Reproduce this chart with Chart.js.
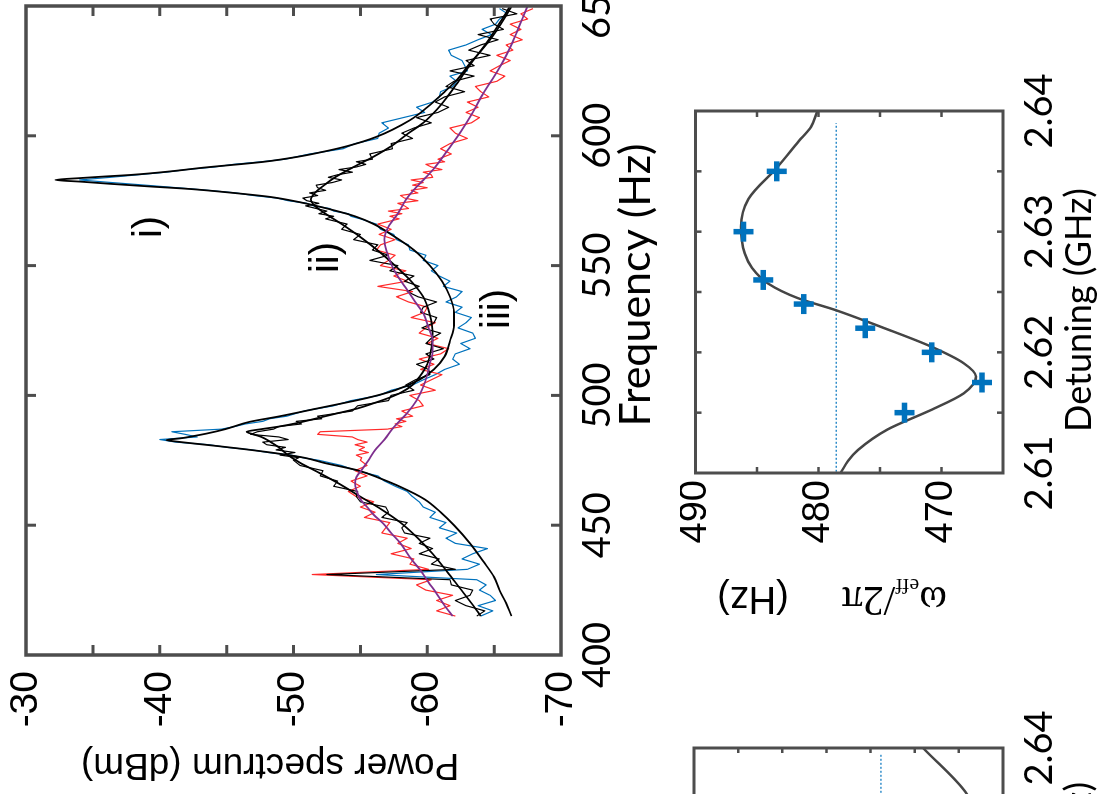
<!DOCTYPE html>
<html><head><meta charset="utf-8">
<script src="https://cdn.jsdelivr.net/npm/chart.js@4.4.1/dist/chart.umd.min.js"></script>
<style>
html,body{margin:0;padding:0;background:#fff;overflow:hidden;width:1106px;height:794px;}
#fig{position:absolute;left:0;top:0;width:794px;height:1106px;transform-origin:0 0;transform:translate(0px,794px) rotate(-90deg);}
canvas{position:absolute;}
</style></head><body>
<div id="fig">
<canvas id="main" width="794" height="690" style="left:0px;top:0px"></canvas>
<canvas id="inset" width="634" height="426" style="left:160px;top:680px"></canvas>
<canvas id="third" width="500" height="426" style="left:-400px;top:680px"></canvas>
</div>
<script>
// ---------- main panel data: power spectrum (dBm) vs frequency (Hz) ----------
const freqs = [415,417,419,421,423,425,427,429,431,433,435,437,439,441,443,445,447,449,451,453,455,457,459,461,463,465,467,469,471,473,475,
476,477,478,479,480,481,482,483,484,485,486,487,488,489,490,491,492,
494,496,498,500,502,504,506,508,510,512,514,516,518,520,522,524,526,528,530,532,534,536,538,540,542,544,546,548,550,552,554,556,558,560,562,564,566,568,
569,570,571,572,573,574,575,576,577,578,579,580,581,582,583,584,585,586,587,588,589,590,591,
593,595,597,599,601,603,605,607,609,611,613,615,617,619,621,623,625,627,629,631,633,635,637,639,641,643,645,647,649];

const blueI = [-64.0,-64.9,-63.8,-65.1,-64.7,-63.9,-64.4,-63.7,-56.2,-63.0,-63.9,-62.6,-63.4,-64.5,-62.1,-61.4,-62.2,-60.9,-61.4,-60.2,-60.6,-59.7,-59.4,-58.9,-58.5,-57.6,-56.8,-56.3,-54.7,-53.6,-51.9,
-50.7,-49.8,-48.1,-46.9,-45.0,-43.7,-41.2,-40.0,-42.8,-41.9,-40.9,-44.6,-45.6,-46.4,-47.7,-48.2,-49.5,
-50.8,-53.0,-54.3,-56.4,-57.3,-58.9,-59.7,-60.6,-61.3,-62.4,-61.9,-62.1,-63.2,-62.5,-63.6,-63.4,-62.3,-62.9,-63.3,-62.1,-62.6,-61.4,-62.2,-62.6,-61.2,-61.7,-60.9,-60.3,-60.8,-59.7,-59.9,-58.7,-58.6,-57.7,-57.5,-56.5,-56.2,-55.0,
-54.3,-54.1,-53.0,-52.7,-51.5,-51.0,-49.6,-48.8,-47.0,-45.7,-43.6,-41.3,-38.9,-36.4,-34.0,-36.3,-38.4,-40.5,-42.0,-44.1,-45.5,-47.6,-49.4,
-51.2,-53.7,-54.6,-56.3,-56.4,-57.1,-56.6,-58.2,-59.8,-59.2,-60.4,-60.9,-61.0,-61.9,-62.2,-61.7,-63.0,-62.8,-62.6,-61.8,-61.6,-62.9,-63.8,-64.8,-64.1,-65.1,-65.4,-66.0,-65.4];

const blackII = [-63.7,-64.3,-62.9,-62.1,-63.2,-63.4,-61.8,-61.7,-52.5,-62.1,-60.3,-60.9,-59.4,-60.4,-59.4,-60.2,-58.3,-58.1,-58.5,-56.6,-57.1,-56.9,-55.0,-54.7,-54.8,-53.0,-53.3,-52.0,-52.2,-50.5,-50.0,
-50.4,-49.0,-50.1,-48.7,-49.4,-48.0,-47.7,-49.6,-48.9,-46.8,-47.3,-48.5,-48.9,-50.6,-50.2,-52.1,-51.8,
-54.4,-54.8,-57.1,-57.3,-59.0,-58.4,-59.1,-60.2,-60.1,-59.2,-60.5,-59.9,-61.2,-59.9,-60.3,-61.0,-59.6,-60.5,-60.7,-59.5,-59.7,-60.7,-59.3,-58.5,-59.4,-58.3,-59.0,-57.2,-57.8,-55.7,-57.1,-55.9,-56.3,-54.5,-55.0,-53.6,-54.0,-52.4,
-53.0,-51.9,-52.5,-51.7,-50.9,-51.9,-51.0,-50.7,-51.8,-51.2,-52.4,-51.8,-51.7,-52.9,-53.6,-52.6,-53.3,-54.4,-53.4,-54.7,-55.4,-54.7,-55.9,
-55.7,-57.4,-57.3,-58.9,-58.1,-59.0,-60.3,-59.2,-60.8,-61.6,-60.6,-61.3,-62.8,-61.4,-62.0,-63.5,-61.7,-63.5,-62.9,-64.7,-63.1,-64.0,-65.3,-63.8,-65.7,-65.0,-64.7,-66.7,-65.6];

const redIII = [-62.1,-60.7,-61.7,-60.7,-61.9,-59.9,-59.2,-60.3,-51.4,-60.1,-58.7,-59.0,-57.3,-58.8,-57.8,-58.5,-56.6,-56.9,-57.2,-55.3,-56.1,-55.0,-56.0,-54.7,-54.1,-55.0,-54.3,-55.5,-54.6,-55.5,-55.0,
-55.1,-54.7,-55.6,-54.9,-55.3,-54.6,-55.5,-54.8,-54.4,-51.8,-52.0,-57.0,-58.1,-57.6,-58.4,-57.7,-58.9,
-58.1,-59.7,-59.4,-58.7,-60.6,-59.5,-60.3,-61.1,-59.5,-60.5,-59.4,-61.0,-61.6,-60.0,-60.8,-59.4,-59.9,-60.6,-58.8,-59.8,-60.0,-58.6,-57.7,-58.9,-56.3,-58.5,-57.5,-58.4,-56.5,-57.1,-57.6,-56.2,-56.5,-57.6,-56.4,-57.3,-56.3,-57.9,
-57.2,-58.1,-57.1,-58.6,-58.3,-57.8,-59.3,-58.3,-58.0,-59.3,-58.8,-60.0,-58.9,-59.7,-58.8,-60.4,-60.3,-59.7,-61.1,-60.3,-59.9,-61.3,-60.8,
-61.8,-61.0,-61.7,-63.0,-62.1,-61.7,-63.3,-63.9,-62.9,-63.8,-63.0,-64.6,-64.0,-63.6,-65.2,-65.8,-64.7,-65.4,-66.2,-65.2,-66.4,-65.9,-67.1,-66.2,-67.0,-66.2,-67.5,-67.0,-67.9];

const fit1Freq = [415,420,425,430,436,443,450,455,460,465,468,471,474,476,478,479.5,480.5,481.5,482.2,482.8,483.5,484.3,485.3,487,489.8,492,495,499,502,506,510,515,521,527,532,538,544,550,556,561,566,569,572,574.5,576.5,578,579.5,580.5,581.5,582.3,583,583.7,584.3,585,586.3,587.7,590,592,593.4,596,599.6,606,611,616.5,622,628,632,637,643,649,650];
const fit1Pow = [-66.3,-65.9,-65.4,-65.0,-64.2,-63.2,-62.0,-61.0,-59.8,-57.9,-56.5,-54.9,-52.3,-50.8,-48.3,-46.0,-44.3,-42.5,-41.3,-40.5,-41.6,-42.5,-43.5,-44.9,-46.7,-49.0,-51.8,-55.5,-57.6,-59.4,-60.5,-61.3,-61.7,-62.0,-62.0,-61.7,-61.1,-60.2,-59.0,-57.6,-56.0,-54.6,-52.5,-50.4,-48.2,-45.5,-42.3,-39.2,-36.3,-34.2,-32.2,-34.0,-35.8,-38.0,-40.8,-43.2,-47.8,-50.4,-51.8,-54.0,-56.2,-58.7,-60.0,-61.2,-62.3,-63.2,-63.9,-64.7,-65.5,-66.2,-66.3];

const fit2Freq = [415,420,426,432,439,445,451,456,461,466,470.5,474,477,480,482,484,485,486,487,488,489.5,491,493,495,497,499,501,504,507,512,518,524,531,538,544,549.5,555,561,566,570,573,575.5,578,581,584,588,592,596,601,605,610,615,620,628,637,645,650];
const fit2Pow = [-64.0,-63.3,-62.4,-61.5,-60.4,-59.3,-58.0,-56.6,-55.0,-53.4,-51.8,-50.5,-49.6,-48.9,-48.3,-47.6,-47.0,-46.5,-47.6,-48.9,-50.4,-51.6,-53.2,-54.8,-56.0,-57.1,-58.0,-58.9,-59.4,-60.0,-60.3,-60.4,-60.2,-59.7,-58.8,-57.7,-56.5,-55.0,-53.6,-52.4,-51.6,-51.3,-51.6,-52.3,-53.1,-54.5,-56.0,-57.3,-58.6,-59.7,-60.7,-61.5,-62.2,-63.3,-64.6,-65.6,-66.2];

const fit3Freq = [415,419,423.7,428,432.6,437,443,447,450.7,454,457,460,463.5,466,468.5,472,475,478.9,483,487.8,493.2,498,503.3,508,512.5,517,521.4,526,531.7,536,540.6,545,549.5,555,560,565,570,575.3,579.2,584,588,595,602.3,609,616.5,622,628,634,640,645,650];
const fit3Pow = [-61.9,-61.3,-60.7,-60.1,-59.5,-58.8,-58.0,-57.3,-56.7,-56.0,-55.5,-55.0,-54.7,-54.6,-54.7,-55.2,-55.6,-56.1,-56.8,-57.5,-58.5,-59.2,-59.7,-60.0,-60.2,-60.4,-60.4,-60.1,-59.7,-59.1,-58.5,-57.9,-57.4,-57.0,-56.8,-57.1,-57.8,-58.4,-59.0,-59.9,-60.6,-61.6,-62.6,-63.4,-64.2,-64.9,-65.6,-66.2,-66.7,-67.1,-67.5];

const traceLabels = ['i)', 'ii)', 'iii)'];
const traceLabelFreq = [564.9, 553.1, 533.3];
const traceLabelPow = [-39.3, -52.5, -65.3];

// ---------- inset data: omega_eff/2pi (Hz) vs detuning (GHz) ----------
const detuning = [2.615, 2.6175, 2.620, 2.622, 2.624, 2.626, 2.630, 2.635];
const omegaEff = [473.0, 466.7, 470.8, 476.2, 481.2, 484.5, 486.1, 483.4];
const fitDet = [2.6100,2.6110,2.6119,2.6136,2.6152,2.6166,2.6180,2.6191,2.6205,2.6221,2.6235,2.6245,2.6257,2.6270,2.6282,2.6304,2.6327,2.6354,2.6375,2.6387,2.6400];
const fitOmega = [478.2,477.6,476.8,474.4,470.9,468.2,467.2,468.2,470.9,474.9,478.6,481.7,484.1,485.4,486.0,486.3,485.7,483.3,481.6,480.6,480.1];
const refDet = [2.6101, 2.6390];
const refOmega = [478.56, 478.56];

// ---------- third (partly visible) panel ----------
const thirdDet = [2.628, 2.632, 2.6362, 2.6400];
const thirdVal = [0.20, 0.35, 0.82, 1.81];
const thirdRefDet = [2.6101, 2.6395];
const thirdRefVal = [2.765, 2.765];

const SANS = '"Liberation Sans", Arial, sans-serif';
const HUM = 'Lato, "Open Sans", sans-serif';
const SERIF = '"Liberation Serif", "DejaVu Serif", serif';
const AXIS = '#4d4d4d';

function pts(xs, ys){ return xs.map((x,i)=>({x:x, y:ys[i]})); }

function boxPlugin(tickLen, boxW, tickW){
  return {
    id:'box',
    afterDraw(chart){
      const ctx = chart.ctx, a = chart.chartArea, xs = chart.scales.x, ys = chart.scales.y;
      ctx.save();
      ctx.strokeStyle = AXIS; ctx.lineWidth = tickW; ctx.lineCap='butt';
      ctx.beginPath();
      xs.ticks.forEach(t=>{
        if (t.value <= xs.min + 1e-9 || t.value >= xs.max - 1e-9) return;
        const px = xs.getPixelForValue(t.value);
        ctx.moveTo(px, a.bottom); ctx.lineTo(px, a.bottom - tickLen);
        ctx.moveTo(px, a.top); ctx.lineTo(px, a.top + tickLen);
      });
      ys.ticks.forEach(t=>{
        if (t.value <= ys.min + 1e-9 || t.value >= ys.max - 1e-9) return;
        const py = ys.getPixelForValue(t.value);
        ctx.moveTo(a.left, py); ctx.lineTo(a.left + tickLen, py);
        ctx.moveTo(a.right, py); ctx.lineTo(a.right - tickLen, py);
      });
      ctx.stroke();
      ctx.lineWidth = boxW; ctx.lineJoin = 'miter';
      ctx.strokeRect(a.left, a.top, a.right - a.left, a.bottom - a.top);
      ctx.restore();
    }
  };
}

function txt(ctx, s, x, y, font, align, base, rot){
  ctx.save(); ctx.translate(x, y); if (rot) ctx.rotate(rot);
  ctx.font = font; ctx.textAlign = align; ctx.textBaseline = base; ctx.fillStyle = '#000';
  ctx.fillText(s, 0, 0); ctx.restore();
}

function fixX(h){ return function(s){ s.height = h; s.paddingLeft = 0; s.paddingRight = 0; s.paddingTop = 0; s.paddingBottom = 0; }; }
function fixY(w){ return function(s){ s.width = w; s.paddingLeft = 0; s.paddingRight = 0; s.paddingTop = 0; s.paddingBottom = 0; }; }

const common = {
  responsive:false, animation:false, devicePixelRatio:1,
  plugins:{legend:{display:false}, tooltip:{enabled:false}},
  elements:{point:{radius:0}, line:{tension:0, fill:false, borderJoinStyle:'round'}}
};

// ---------- main chart ----------
new Chart(document.getElementById('main'), {
  type:'line',
  data:{datasets:[
    {data:pts(fit3Freq, fit3Pow), borderColor:'#7E2F8E', borderWidth:1.8, cubicInterpolationMode:'monotone'},
    {data:pts(fit1Freq, fit1Pow), borderColor:'#000000', borderWidth:1.8, cubicInterpolationMode:'monotone'},
    {data:pts(fit2Freq, fit2Pow), borderColor:'#000000', borderWidth:1.8, cubicInterpolationMode:'monotone'},
    {data:pts(freqs, blackII), borderColor:'#000000', borderWidth:1.2},
    {data:pts(freqs, redIII), borderColor:'#FF2A2A', borderWidth:1.2},
    {data:pts(freqs, blueI), borderColor:'#0072BD', borderWidth:1.2}
  ]},
  options:Object.assign({}, common, {
    layout:{padding:{left:0, right:6, top:26, bottom:0}},
    scales:{
      x:{type:'linear', min:400, max:650,
         ticks:{stepSize:50, autoSkip:false, maxRotation:0, padding:14, color:'#000', font:{family:HUM, size:38}},
         grid:{display:false, drawTicks:false}, border:{display:false}, afterFit:fixX(129)},
      y:{type:'linear', min:-70, max:-30,
         ticks:{stepSize:5, autoSkip:false, padding:16, color:'#000', font:{family:SANS, size:39},
                callback:(v)=> (Math.round(v) % 10 === 0 ? String(v) : '')},
         grid:{display:false, drawTicks:false}, border:{display:false}, afterFit:fixY(139)}
    }
  }),
  plugins:[boxPlugin(10, 3.5, 3), {
    id:'mainText',
    afterDraw(chart){
      const ctx = chart.ctx, xs = chart.scales.x, ys = chart.scales.y;
      traceLabels.forEach((s,i)=>{
        txt(ctx, s, xs.getPixelForValue(traceLabelFreq[i]), ys.getPixelForValue(traceLabelPow[i]), '40px ' + SANS, 'center', 'middle');
      });
      txt(ctx, 'Frequency (Hz)', 509, 650, '43px ' + HUM, 'center', 'alphabetic');
      txt(ctx, 'Power spectrum (dBm)', 40, 270, '37px ' + SANS, 'center', 'alphabetic', -Math.PI/2);
    }
  }]
});

// ---------- inset chart ----------
new Chart(document.getElementById('inset'), {
  type:'line',
  data:{datasets:[
    {data:pts(detuning, omegaEff), showLine:false, pointStyle:'cross', pointRadius:10, pointBorderWidth:5.5, pointBorderColor:'#0072BD', borderColor:'#0072BD'},
    {data:pts(fitDet, fitOmega), borderColor:'#454545', borderWidth:2.5, cubicInterpolationMode:'monotone'},
    {data:pts(refDet, refOmega), borderColor:'#0072BD', borderWidth:1.2, borderDash:[2,2]}
  ]},
  options:Object.assign({}, common, {
    layout:{padding:{left:0, right:111, top:14, bottom:0}},
    scales:{
      x:{type:'linear', min:2.61, max:2.64,
         ticks:{stepSize:0.005, autoSkip:false, maxRotation:0, padding:14, color:'#000', font:{family:HUM, size:38},
                callback:(v)=> (Math.round(v*1000) % 10 === 0 ? v.toFixed(2) : '')},
         grid:{display:false, drawTicks:false}, border:{display:false}, afterFit:fixX(103)},
      y:{type:'linear', min:465, max:490,
         ticks:{stepSize:5, autoSkip:false, padding:7, color:'#000', font:{family:SANS, size:38},
                callback:(v)=> (Math.round(v) % 10 === 0 ? String(v) : '')},
         grid:{display:false, drawTicks:false}, border:{display:false}, afterFit:fixY(161)}
    }
  }),
  plugins:[boxPlugin(6, 3, 2.5), {
    id:'insetText',
    afterDraw(chart){
      const ctx = chart.ctx;
      txt(ctx, 'Detuning (GHz)', 324, 411, '36px ' + HUM, 'center', 'alphabetic');
      // omega_eff / 2 pi (Hz), vertical title
      ctx.save(); ctx.translate(47, 267); ctx.rotate(-Math.PI/2);
      ctx.fillStyle = '#000'; ctx.textBaseline = 'alphabetic'; ctx.textAlign = 'left';
      let xPos = 0;
      ctx.font = '42px ' + SERIF; ctx.fillText('\u03C9', xPos, 0); xPos += ctx.measureText('\u03C9').width;
      ctx.font = '22px ' + SERIF; ctx.fillText('eff', xPos, 8); xPos += ctx.measureText('eff').width;
      ctx.font = '42px ' + SERIF; ctx.fillText('/2\u03C0', xPos, 0);
      ctx.font = '38px ' + SANS; ctx.textAlign = 'right'; ctx.fillText('(Hz)', 230, 0);
      ctx.restore();
    }
  }]
});

// ---------- third chart (mostly outside the picture) ----------
new Chart(document.getElementById('third'), {
  type:'line',
  data:{datasets:[
    {data:pts(thirdDet, thirdVal), borderColor:'#454545', borderWidth:2.5, cubicInterpolationMode:'monotone'},
    {data:pts(thirdRefDet, thirdRefVal), borderColor:'#0072BD', borderWidth:1.2, borderDash:[2,2]}
  ]},
  options:Object.assign({}, common, {
    layout:{padding:{left:0, right:54, top:14, bottom:0}},
    scales:{
      x:{type:'linear', min:2.61, max:2.64,
         ticks:{stepSize:0.01, autoSkip:false, maxRotation:0, padding:14, color:'#000', font:{family:HUM, size:38},
                callback:(v)=> v.toFixed(2)},
         grid:{display:false, drawTicks:false}, border:{display:false}, afterFit:fixX(103)},
      y:{type:'linear', min:0, max:7,
         ticks:{stepSize:1, autoSkip:false, padding:7, color:'#000', font:{family:SANS, size:38}},
         grid:{display:false, drawTicks:false}, border:{display:false}, afterFit:fixY(84)}
    }
  }),
  plugins:[boxPlugin(5, 3, 2.5), {
    id:'thirdText',
    afterDraw(chart){
      txt(chart.ctx, 'Detuning (GHz)', 412, 411, '36px ' + HUM, 'right', 'alphabetic');
    }
  }]
});
</script>
</body></html>
